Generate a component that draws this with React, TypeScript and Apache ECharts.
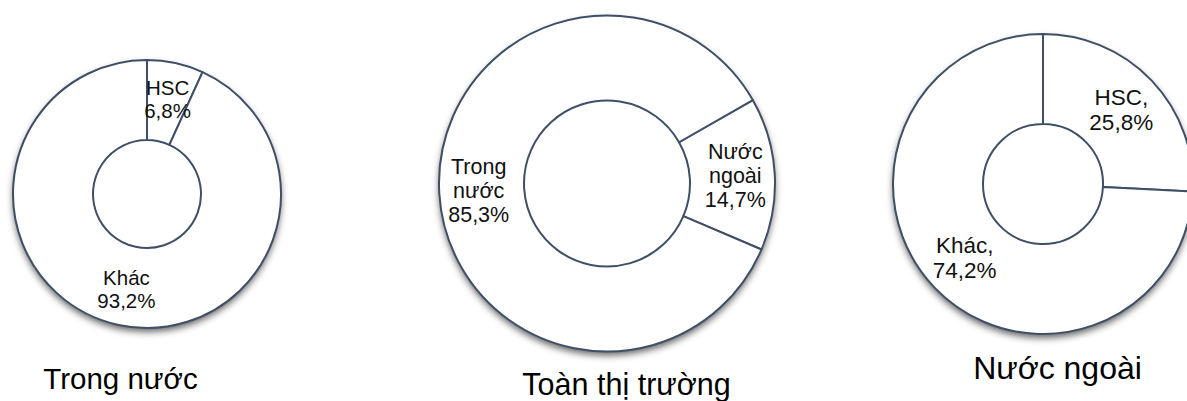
import React, { useEffect, useRef } from "react";
import * as echarts from "echarts";

// ---- Data ----
const chartTitles = ["Trong nước", "Toàn thị trường", "Nước ngoài"];

const domesticNames = ["HSC", "Khác"];
const domesticValues = [6.8, 93.2];

const marketNames = ["Nước ngoài", "Trong nước"];
const marketValues = [14.7, 85.3];

const foreignNames = ["HSC", "Khác"];
const foreignValues = [25.8, 74.2];

const STROKE = "#3e4f66";
const FONT = "'Liberation Sans', Arial, sans-serif";

const fmtNum = (v: number) => v.toFixed(1).replace(".", ",") + "%";

function buildData(names: string[], values: number[]) {
  return names.map((n, i) => ({ name: n, value: values[i] }));
}

function ringSeries(
  names: string[],
  values: number[],
  center: [number, number],
  radius: [number, number],
  startAngle: number,
  labelFn: (name: string, value: number) => string,
  fontSize: number,
  lineHeight: number
) {
  return {
    type: "pie",
    center,
    radius,
    startAngle,
    clockwise: true,
    avoidLabelOverlap: false,
    minAngle: 0,
    z: 3,
    silent: true,
    emphasis: { disabled: true },
    itemStyle: { color: "#ffffff", borderColor: STROKE, borderWidth: 2 },
    label: {
      show: true,
      position: "inside",
      color: "#111111",
      fontFamily: FONT,
      fontSize,
      lineHeight,
      formatter: (p: any) => labelFn(p.name, p.value),
    },
    labelLine: { show: false },
    data: buildData(names, values),
  };
}

function shadowDisc(center: [number, number], r: number) {
  return {
    type: "pie",
    center,
    radius: [0, r],
    silent: true,
    z: 1,
    label: { show: false },
    labelLine: { show: false },
    emphasis: { disabled: true },
    itemStyle: {
      color: "#ffffff",
      shadowBlur: 7,
      shadowOffsetY: 4,
      shadowColor: "rgba(0,0,0,0.6)",
    },
    data: [{ value: 1, name: "" }],
  };
}

function titleText(text: string, x: number, y: number, size: number) {
  return {
    type: "text",
    x,
    y,
    style: {
      text,
      fontFamily: FONT,
      fontSize: size,
      fill: "#000000",
      align: "center",
      verticalAlign: "middle",
    },
  };
}

export default function App() {
  const ref = useRef<HTMLDivElement>(null);

  useEffect(() => {
    if (!ref.current) return;
    document.body.style.margin = "0";
    const chart = echarts.init(ref.current, null, { renderer: "svg" });

    const c1: [number, number] = [147, 194];
    const c2: [number, number] = [607, 183.5];
    const c3: [number, number] = [1043, 184];

    const option: any = {
      animation: false,
      backgroundColor: "#ffffff",
      tooltip: { show: false },
      series: [
        shadowDisc(c1, 134),
        shadowDisc(c2, 168),
        shadowDisc(c3, 150),
        ringSeries(
          domesticNames,
          domesticValues,
          c1,
          [54, 134],
          90,
          (n, v) => n + "\n" + fmtNum(v),
          20.5,
          23
        ),
        ringSeries(
          marketNames,
          marketValues,
          c2,
          [83, 168],
          29.8,
          (n, v) => n.replace(" ", "\n") + "\n" + fmtNum(v),
          21.5,
          24
        ),
        ringSeries(
          foreignNames,
          foreignValues,
          c3,
          [60, 150],
          90,
          (n, v) => n + ",\n" + fmtNum(v),
          22.5,
          25
        ),
      ],
      graphic: [
        titleText(chartTitles[0], 120.5, 378, 29.5),
        titleText(chartTitles[1], 626.5, 384, 30.5),
        titleText(chartTitles[2], 1057.5, 368, 32),
      ],
    };

    chart.setOption(option);
    return () => chart.dispose();
  }, []);

  return <div ref={ref} style={{ width: 1187, height: 401 }} />;
}
